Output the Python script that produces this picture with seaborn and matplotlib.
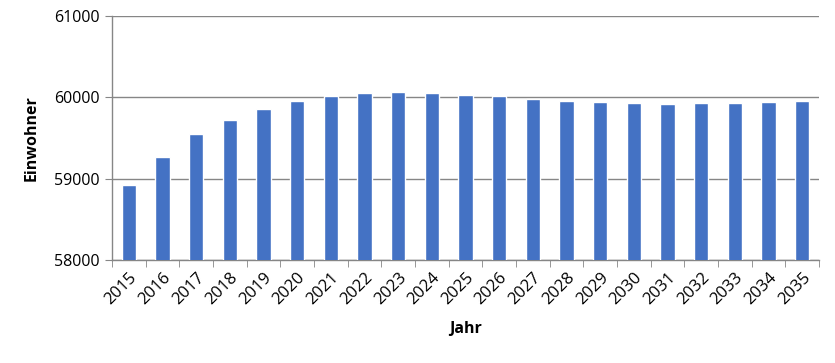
import matplotlib
matplotlib.use("Agg")
import matplotlib.pyplot as plt
import seaborn as sns
import pandas as pd
import numpy as np
from matplotlib.ticker import FixedLocator

years = [str(y) for y in range(2015, 2036)]
einwohner = [58917, 59263, 59547, 59719, 59855, 59952, 60012, 60050, 60062, 60050,
             60025, 60012, 59975, 59951, 59938, 59926, 59914, 59926, 59926, 59938, 59951]

df = pd.DataFrame({"Jahr": years, "Einwohner": einwohner})

sns.set_style("white")
plt.rcParams["font.family"] = ["Open Sans", "DejaVu Sans"]
plt.rcParams["text.color"] = "black"
plt.rcParams["axes.labelcolor"] = "black"
plt.rcParams["xtick.color"] = "black"
plt.rcParams["ytick.color"] = "black"

fig = plt.figure(figsize=(8.35, 3.63), dpi=100)
ax = fig.add_axes([112/835, 1-260/363, (819-112)/835, (260-16)/363])

sns.barplot(data=df, x="Jahr", y="Einwohner", color="#4472C4", width=0.43,
            saturation=1, ax=ax, zorder=3)

ax.set_ylim(58000, 61000)
ax.set_xlim(-0.5, len(years)-0.5)
ax.set_yticks([58000, 59000, 60000, 61000])
ax.yaxis.grid(True, color="#868686", linewidth=1, zorder=0)
ax.set_axisbelow(True)

for s in ["top", "right"]:
    ax.spines[s].set_visible(False)
for s in ["left", "bottom"]:
    ax.spines[s].set_color("#868686")
    ax.spines[s].set_linewidth(1)

ax.tick_params(axis="y", which="major", left=True, length=5, color="#868686",
               labelsize=11.5, pad=4, labelcolor="black")
ax.tick_params(axis="x", which="major", length=0, labelsize=12, pad=7,
               labelcolor="black")
ax.xaxis.set_minor_locator(FixedLocator(np.arange(-0.5, len(years), 1)))
ax.tick_params(axis="x", which="minor", bottom=True, length=5, color="#868686")

for lab in ax.get_xticklabels():
    lab.set_rotation(45)
    lab.set_ha("right")
    lab.set_rotation_mode("anchor")

ax.set_xlabel("Jahr", fontsize=11.5, fontweight="bold", labelpad=9, color="black")
ax.set_ylabel("Einwohner", fontsize=11.5, fontweight="bold", labelpad=10, color="black")

fig.savefig("out.png", dpi=100)
